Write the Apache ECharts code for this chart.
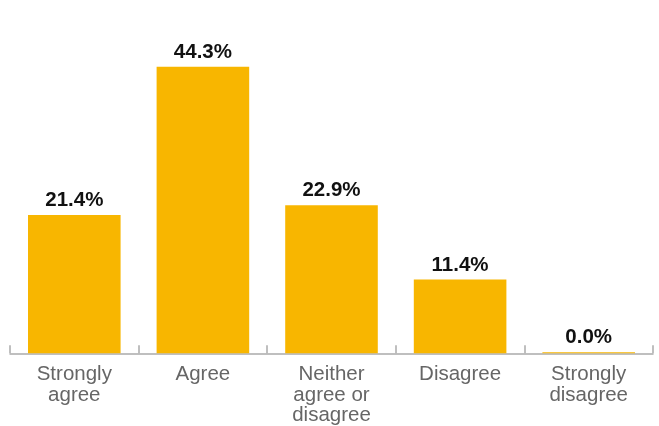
<!DOCTYPE html>
<html><head><meta charset="utf-8">
<script src="https://cdn.jsdelivr.net/npm/echarts@6/dist/echarts.min.js"></script>
<style>html,body{margin:0;padding:0;background:#fff}#c{width:659px;height:426px}</style>
</head><body><div id="c"></div>
<script>
var categories = ["Strongly\nagree", "Agree", "Neither\nagree or\ndisagree", "Disagree", "Strongly\ndisagree"];
var values = [21.4, 44.3, 22.9, 11.4, 0.0];

var chart = echarts.init(document.getElementById('c'), null, {renderer: 'canvas'});
chart.setOption({
  animation: false,
  backgroundColor: '#ffffff',
  grid: {left: 10, right: 6, top: 30, bottom: 72, containLabel: false},
  xAxis: {
    type: 'category',
    data: categories,
    axisLine: {lineStyle: {color: '#aaaaaa', width: 1.5}},
    axisTick: {show: true, inside: true, length: 8, lineStyle: {color: '#aaaaaa', width: 1.5}},
    axisLabel: {color: '#666666', fontSize: 20.5, fontFamily: 'Liberation Sans, Arial, sans-serif', lineHeight: 20.5, margin: 11, interval: 0}
  },
  yAxis: {type: 'value', min: 0, max: 50, show: false, splitLine: {show: false}},
  series: [{
    type: 'bar',
    data: values,
    barWidth: '72%',
    barMinHeight: 1,
    itemStyle: {color: '#F8B600'},
    label: {
      show: true, position: 'top', distance: 4,
      formatter: function(p){ return p.value.toFixed(1) + '%'; },
      color: '#111111', fontWeight: 'bold', fontSize: 20.5,
      fontFamily: 'Liberation Sans, Arial, sans-serif'
    }
  }]
});
</script></body></html>
